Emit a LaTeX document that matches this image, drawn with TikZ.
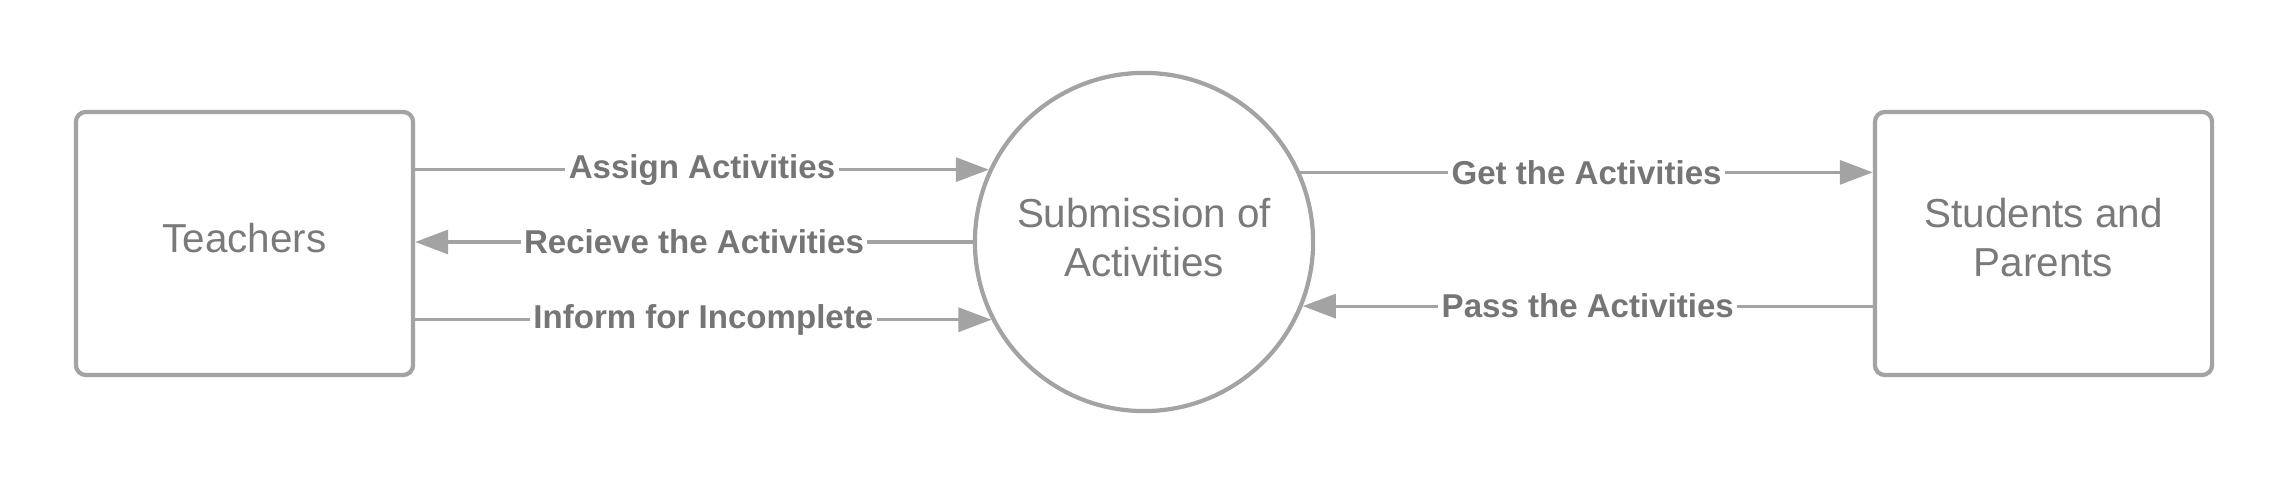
\documentclass[tikz,border=0pt]{standalone}
\usepackage{fontspec}
\setmainfont{Liberation Sans}
\usepackage{xcolor}
\usepackage{tikz}
\usetikzlibrary{arrows.meta,positioning}

\definecolor{linegray}{HTML}{A3A3A3}
\definecolor{textgray}{HTML}{7A7A7A}
\definecolor{labelgray}{HTML}{757575}

\begin{document}
\begin{tikzpicture}[
  x=0.01cm, y=0.01cm,
  entity/.style={rectangle, rounded corners=0.1cm, draw=linegray, line width=1.2pt,
    minimum width=3.37cm, minimum height=2.63cm, text=textgray, text depth=0.12cm,
    font=\fontsize{11.5}{14}\selectfont, align=center},
  process/.style={circle, draw=linegray, line width=1.2pt, minimum size=3.38cm,
    inner sep=0pt, text=textgray, text depth=0.1cm,
    font=\fontsize{11.5}{14}\selectfont, align=center},
  flow/.style={draw=linegray, line width=0.9pt,
    -{Triangle[length=0.33cm,width=0.24cm]}},
  lbl/.style={fill=white, text=labelgray, inner xsep=1pt, inner ysep=2pt,
    font=\bfseries\fontsize{9.4}{11}\selectfont}
]
  \useasboundingbox (0,0) rectangle (2288,488);

  \node[entity] (teach) at (244.5,244.5) {Teachers};
  \node[process] (subm) at (1144,246) {Submission of\\Activities};
  \node[entity] (stud) at (2043.5,244.5) {Students and\\Parents};

  % teachers <-> submission
  \draw[flow] (teach.east |- subm.155) -- node[lbl] {Assign Activities} (subm.155);
  \draw[flow] (subm.west) -- node[lbl] {Recieve the Activities} (teach.east |- subm.west);
  \draw[flow] (teach.east |- subm.207) -- node[lbl] {Inform for Incomplete} (subm.207);

  % submission <-> students
  \draw[flow] (subm.24) -- node[lbl] {Get the Activities} (stud.west |- subm.24);
  \draw[flow] (stud.west |- subm.338) -- node[lbl] {Pass the Activities} (subm.338);
\end{tikzpicture}
\end{document}
